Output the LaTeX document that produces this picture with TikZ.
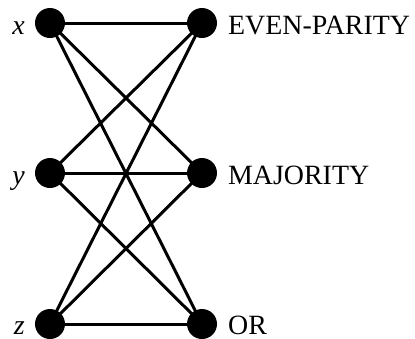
\documentclass[tikz,border=0pt]{standalone}
\usepackage{fontspec}
\setmainfont{Liberation Serif}
\begin{document}
\begin{tikzpicture}[x=1bp,y=-1bp,
  dot/.style={circle,fill=black,minimum size=30bp,inner sep=0pt},
  edge/.style={line width=3bp},
  lab/.style={inner sep=0pt,font=\fontsize{28}{30}\selectfont}]
\useasboundingbox (0,0) rectangle (415,339);
\node[dot] (x) at (50,23) {};
\node[dot] (y) at (50,173) {};
\node[dot] (z) at (50,324) {};
\node[dot] (e) at (202,23) {};
\node[dot] (m) at (202,173) {};
\node[dot] (o) at (202,324) {};
\foreach \a in {x,y,z}{\foreach \b in {e,m,o}{\draw[edge] (\a.center) -- (\b.center);}}
\node[lab,anchor=base east] (lx) at (25,34) {\textit{x}};
\node[lab,anchor=base east] (ly) at (25,184) {\textit{y}};
\node[lab,anchor=base east] (lz) at (25,334) {\textit{z}};
\node[lab,anchor=base west] (le) at (228,34) {EVEN-PARITY};
\node[lab,anchor=base west] (lm) at (228,184) {MAJORITY};
\node[lab,anchor=base west] (lo) at (228,334) {OR};
\end{tikzpicture}
\end{document}
